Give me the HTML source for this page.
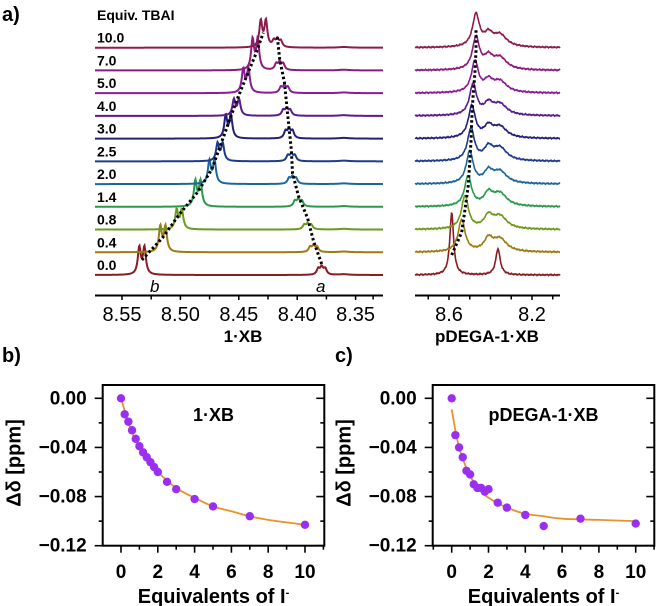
<!DOCTYPE html>
<html><head><meta charset="utf-8"><style>
html,body{margin:0;padding:0;background:#fff}
svg{display:block;font-family:"Liberation Sans",sans-serif}
.b{font-weight:bold}
</style></head><body>
<svg id="fig" width="658" height="606" viewBox="0 0 658 606" xmlns="http://www.w3.org/2000/svg">
<text x="2" y="21" class="b" font-size="20">a)</text>
<text x="97" y="20" class="b" font-size="14">Equiv. TBAI</text>
<g id="spec"></g>
<text x="243" y="342" class="b" font-size="17" text-anchor="middle">1·XB</text>
<text x="487" y="342" class="b" font-size="17" text-anchor="middle">pDEGA-1·XB</text>
<text x="150" y="292" font-size="17" font-style="italic">b</text>
<text x="316" y="292" font-size="17" font-style="italic">a</text>
<text x="2" y="362" class="b" font-size="20">b)</text>
<text x="335" y="362" class="b" font-size="20">c)</text>
<g id="plots"></g>
</svg>
<script>
const NS="http://www.w3.org/2000/svg";
// ---- spectra data ----
const equivLabels=["0.0","0.4","0.8","1.4","2.0","2.5","3.0","4.0","5.0","7.0","10.0"];
const traceColors=["#8b1c22","#9c7a14","#6e9a1c","#2a9a4a","#1e6898","#1c3c8c","#22207a","#5a1c8c","#8a1c98","#8c1c7c","#8c1c4c"];
const bPos=[8.533,8.515,8.501,8.485,8.473,8.466,8.459,8.452,8.444,8.436,8.429];
const bHeight=[32,30,23,30,27,21,27,19,28,36,31];
const aPos=[8.379,8.386,8.391,8.399,8.404,8.405,8.407,8.409,8.411,8.415,8.417];
const aHeight=[11,9,8,10,10,10,13,10,10,11,11];
const pMainPos=[8.587,8.539,8.523,8.508,8.500,8.494,8.490,8.484,8.475,8.470,8.470];
const pMainHeight=[62,32,33,30,32,32,32,31,31,32,32];
const pSecondHeight=[26,16,16,16,15,16,14,14,14,15,15];
const leftTicks=[8.55,8.50,8.45,8.40,8.35];
const rightTicks=[8.6,8.2];
// ---- titration data ----
const eqB=[0,0.2,0.4,0.6,0.8,1.0,1.2,1.4,1.6,1.8,2.0,2.5,3,4,5,7,10];
const ddB=[0,-0.013,-0.019,-0.026,-0.033,-0.039,-0.044,-0.048,-0.052,-0.056,-0.060,-0.068,-0.074,-0.082,-0.088,-0.096,-0.103];
const fitXB=[0,0.5,1,1.5,2,3,4,5,6,7,8,9,10];
const fitYB=[0,-0.024,-0.040,-0.051,-0.060,-0.073,-0.081,-0.088,-0.092,-0.096,-0.099,-0.101,-0.103];
const eqC=[0,0.2,0.4,0.6,0.8,1.0,1.2,1.4,1.6,1.8,2.0,2.5,3,4,5,7,10];
const ddC=[0,-0.030,-0.040,-0.048,-0.059,-0.062,-0.070,-0.073,-0.073,-0.076,-0.074,-0.085,-0.089,-0.095,-0.104,-0.098,-0.102];
const fitXC=[0,0.25,0.5,1,1.5,2,3,4,5,6,8,10];
const fitYC=[-0.009,-0.030,-0.045,-0.063,-0.074,-0.081,-0.089,-0.094,-0.096,-0.098,-0.099,-0.100];
const xTicks=[0,2,4,6,8,10];
const yTicks=[0,-0.04,-0.08,-0.12];

function el(tag,attrs,parent){const e=document.createElementNS(NS,tag);for(const k in attrs)e.setAttribute(k,attrs[k]);parent.appendChild(e);return e;}
function lor(x,x0,g){return 1/(1+((x-x0)/g)**2);}
const spec=document.getElementById('spec');
const base0=275, baseStep=22.73;
function baseY(i){return base0-i*baseStep;}
const lx=p=>122+(8.55-p)*1168, lp=x=>8.55-(x-122)/1168;
const rx=p=>449+(8.6-p)*207.5, rp=x=>8.6-(x-449)/207.5;

for(let i=0;i<equivLabels.length;i++){
  const by=baseY(i);
  const t=el('text',{x:97,y:by-5,'font-size':14,'font-weight':'bold'},spec);
  t.textContent=equivLabels[i];
  
  
  // left trace
  let d='';
  for(let x=95;x<=383;x+=0.5){
    const p=lp(x);
    let y=bHeight[i]*(lor(p,bPos[i]+0.0022,0.0015)+lor(p,bPos[i]-0.0022,0.0015))/1.2;
    y+=aHeight[i]*(0.8*lor(p,aPos[i]+0.003,0.0015)+lor(p,aPos[i],0.0015)+0.8*lor(p,aPos[i]-0.003,0.0015))/1.5;
    y+=0.7*lor(p,8.36,0.005);
    d+=(d?'L':'M')+x.toFixed(1)+','+(by-y).toFixed(2);
  }
  const pl=el('path',{d:d,fill:'none',stroke:traceColors[i],'stroke-width':2},spec);
  
  
  // right trace
  d='';
  const gm=i===0?0.011:0.02, g2=i===0?0.013:0.045;
  for(let x=415;x<=560;x+=0.5){
    const p=rp(x);
    let y=pMainHeight[i]*lor(p,pMainPos[i],gm);
    if(i===0) y+=pSecondHeight[i]*lor(p,8.364,g2);
    else y+=pSecondHeight[i]*(0.75*lor(p,8.41,0.025)+0.8*lor(p,8.355,0.04));
    y+=0.7*Math.sin(x*2.7+i*1.3)*Math.cos(x*1.1);
    d+=(d?'L':'M')+x.toFixed(1)+','+(by-y).toFixed(2);
  }
  const pr=el('path',{d:d,fill:'none',stroke:traceColors[i],'stroke-width':1.6},spec);
  
  
}
// dotted guides
function dotted(xs,ys,name){
  const pts=xs.map((x,i)=>x.toFixed(1)+','+ys[i].toFixed(1)).join(' ');
  const p=el('polyline',{points:pts,fill:'none',stroke:'#000','stroke-width':3,'stroke-dasharray':'2.5,2.5'},spec);
  
  
}
dotted(bPos.map(lx),bPos.map((_,i)=>baseY(i)-15),'guide-peak-b');
dotted(aPos.map(lx),aPos.map((_,i)=>baseY(i)-11),'guide-peak-a');
dotted(pMainPos.map(rx),pMainPos.map((_,i)=>baseY(i)-20),'guide-pdega-peak');
// spectra axes
function specAxis(x1,x2,fx,ticks,minor,name){
  const g=el('g',{},spec);
  
  
  el('line',{x1:x1,x2:x2,y1:295.5,y2:295.5,stroke:'#000','stroke-width':2},g);
  minor.forEach(p=>el('line',{x1:fx(p),x2:fx(p),y1:295,y2:299.5,stroke:'#000','stroke-width':1.5},g));
  ticks.forEach(p=>{
    el('line',{x1:fx(p),x2:fx(p),y1:295,y2:300,stroke:'#000','stroke-width':1.5},g);
    const t=el('text',{x:fx(p),y:321,'font-size':20,'text-anchor':'middle'},g);
    t.textContent=p.toFixed(ticks===leftTicks?2:1);
    
    
  });
}
specAxis(95,383,lx,leftTicks,[8.525,8.475,8.425,8.375,8.335],'x-axis-1xb');
specAxis(415,560,rx,rightTicks,[8.7,8.5,8.4,8.3,8.1],'x-axis-pdega');

// titration plots
const plots=document.getElementById('plots');
function plot(L,R,x0,x10,eq,dd,fx,fy,title,name){
  const T=385,B=545.7;
  const X=v=>x0+(x10-x0)*v/10, Y=v=>398.3+(B-398.3)*v/-0.12;
  const g=el('g',{},plots);
  
  
  el('rect',{x:L,y:T,width:R-L,height:B-T,fill:'none',stroke:'#000','stroke-width':2},g);
  for(let v=-1;v<=11;v++){const xx=X(v);if(xx<L||xx>R)continue;
    el('line',{x1:xx,x2:xx,y1:B,y2:B+(v%2===0?7:4),stroke:'#000','stroke-width':1.6},g);}
  for(let k=0;k<7;k++){const v=-0.02*k;const yy=Y(v);const major=k%2===0;
    el('line',{x1:L-(major?8:4),x2:L,y1:yy,y2:yy,stroke:'#000','stroke-width':1.6},g);
    el('line',{x1:R,x2:R-(major?8:4),y1:yy,y2:yy,stroke:'#000','stroke-width':1.6},g);}
  xTicks.forEach(v=>{const t=el('text',{x:X(v),y:578,'font-size':19,'font-weight':'bold','text-anchor':'middle'},g);t.textContent=String(v);
    });
  yTicks.forEach(v=>{const t=el('text',{x:L-16,y:Y(v)+6,'font-size':19,'font-weight':'bold','text-anchor':'end'},g);t.textContent=(v===0?'0.00':'\u2212'+Math.abs(v).toFixed(2));
    });
  const xt=el('text',{x:(L+R)/2,y:603,'font-size':20,'font-weight':'bold','text-anchor':'middle'},g);
  xt.innerHTML='Equivalents of I<tspan dy="-7" font-size="11">-</tspan>';
  
  const yt=el('text',{x:0,y:0,'font-size':20,'font-weight':'bold','text-anchor':'middle',transform:`translate(${L-82},463) rotate(-90)`},g);
  yt.textContent='Δδ [ppm]';
  
  const tt=el('text',{x:L+(R-L)*0.5,y:421,'font-size':18,'font-weight':'bold','text-anchor':'middle'},g);
  tt.textContent=title;
  
  const P=fx.map((v,i)=>[X(v),Y(fy[i])]);
  let d='M'+P[0][0]+','+P[0][1];
  for(let i=0;i<P.length-1;i++){const p0=P[Math.max(0,i-1)],p1=P[i],p2=P[i+1],p3=P[Math.min(P.length-1,i+2)];
    d+=`C${p1[0]+(p2[0]-p0[0])/6},${p1[1]+(p2[1]-p0[1])/6} ${p2[0]-(p3[0]-p1[0])/6},${p2[1]-(p3[1]-p1[1])/6} ${p2[0]},${p2[1]}`;}
  const fit=el('path',{d:d,fill:'none',stroke:'#e8922e','stroke-width':1.8},g);
  
  eq.forEach((v,i)=>{const c=el('circle',{cx:X(v),cy:Y(dd[i]),r:4.2,fill:'#9b2ff0'},g);
    });
}
plot(102.7,324.3,121,305,eqB,ddB,fitXB,fitYB,'1·XB','titration-plot-1xb');
plot(432.7,654.3,451.7,635.7,eqC,ddC,fitXC,fitYC,'pDEGA-1·XB','titration-plot-pdega');
</script>
</body></html>
